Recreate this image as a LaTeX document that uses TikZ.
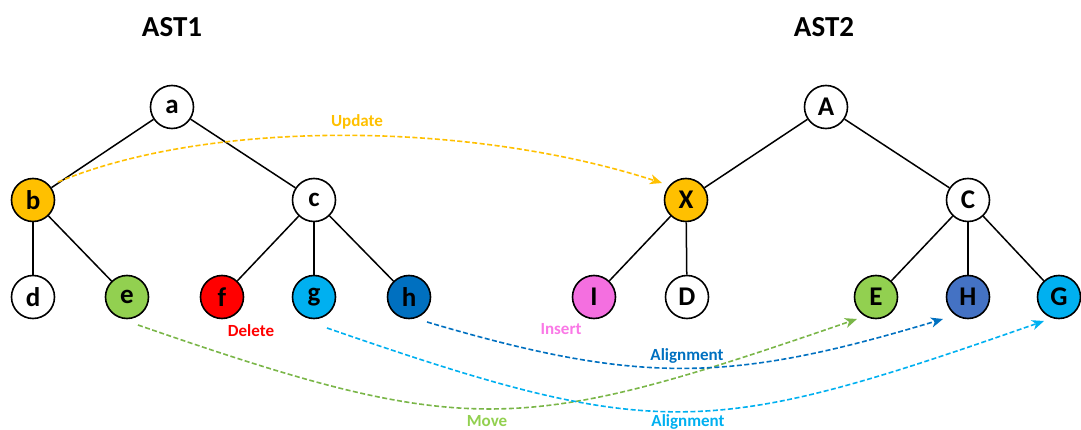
\documentclass[tikz,border=0pt]{standalone}
\usepackage{fontspec}
\setmainfont{Carlito}
\usetikzlibrary{arrows.meta,calc}

\definecolor{cOrange}{HTML}{FFC000}
\definecolor{cGreen}{HTML}{92D050}
\definecolor{cGreenLine}{HTML}{7AB648}
\definecolor{cRed}{HTML}{FF0000}
\definecolor{cSky}{HTML}{00B0F0}
\definecolor{cNavy}{HTML}{0070C0}
\definecolor{cSteel}{HTML}{4472C4}
\definecolor{cPink}{HTML}{F46FE0}
\definecolor{cPinkText}{HTML}{FA78E6}

\tikzset{
  treenode/.style={circle, draw=black, line width=1.6pt, fill=white,
    minimum size=43pt, inner sep=0pt, font=\fontsize{27}{27}\selectfont\bfseries},
  treeedge/.style={line width=1.5pt, black},
  title/.style={font=\fontsize{29}{29}\selectfont\bfseries},
  oplabel/.style={font=\fontsize{17}{17}\selectfont\bfseries},
  opflow/.style={dashed, dash pattern=on 5pt off 2.5pt, line width=1.6pt,
    -{Stealth[length=12pt,width=10pt,inset=3.5pt]}},
}

\begin{document}
\begin{tikzpicture}[x=1pt,y=-1pt]
  \useasboundingbox (0,0) rectangle (1081,430);

  % titles
  \node[title] (t1) at (172,27) {AST1};
  \node[title] (t2) at (824,27) {AST2};

  % first tree
  \node[treenode] (a) at (172,107) {a};
  \node[treenode, fill=cOrange] (b) at (33,200) {b};
  \node[treenode] (c) at (314,200) {c};
  \node[treenode] (d) at (33,297) {d};
  \node[treenode, fill=cGreen] (e) at (127,297) {e};
  \node[treenode, fill=cRed] (f) at (222,297) {f};
  \node[treenode, fill=cSky] (g) at (314,297) {g};
  \node[treenode, fill=cNavy] (h) at (409,297) {h};

  \draw[treeedge] (a) -- (b);
  \draw[treeedge] (a) -- (c);
  \draw[treeedge] (b) -- (d);
  \draw[treeedge] (b) -- (e);
  \draw[treeedge] (c) -- (f);
  \draw[treeedge] (c) -- (g);
  \draw[treeedge] (c) -- (h);

  % second tree
  \node[treenode] (A) at (826,107) {A};
  \node[treenode, fill=cOrange] (X) at (686,200) {X};
  \node[treenode] (C) at (968,200) {C};
  \node[treenode, fill=cPink] (I) at (594,297) {I};
  \node[treenode] (D) at (687,297) {D};
  \node[treenode, fill=cGreen] (E) at (876,297) {E};
  \node[treenode, fill=cSteel] (H) at (968,297) {H};
  \node[treenode, fill=cSky] (G) at (1059,297) {G};

  \draw[treeedge] (A) -- (X);
  \draw[treeedge] (A) -- (C);
  \draw[treeedge] (X) -- (I);
  \draw[treeedge] (X) -- (D);
  \draw[treeedge] (C) -- (E);
  \draw[treeedge] (C) -- (H);
  \draw[treeedge] (C) -- (G);

  % end points of the edit operations
  \coordinate (u0) at ($(b)+(25,-18)$);
  \coordinate (u1) at ($(X)+(-24,-17)$);
  \coordinate (m0) at ($(e)+(11,28)$);
  \coordinate (m1) at ($(E)+(-19,22)$);
  \coordinate (g0) at ($(g)+(13,31)$);
  \coordinate (g1) at ($(G)+(-15,24)$);
  \coordinate (h0) at ($(h)+(18,25)$);
  \coordinate (h1) at ($(H)+(-25,22)$);

  % edit operations
  \draw[opflow, cOrange] (u0) .. controls (210,119) and (470,121) .. (u1);
  \draw[opflow, cGreenLine] (m0) .. controls (470,440) and (520,435) .. (m1);
  \draw[opflow, cSky] (g0) .. controls (659,443) and (709,438) .. (g1);
  \draw[opflow, cNavy] (h0) .. controls (640,385) and (730,383) .. (h1);

  % operation labels
  \node[oplabel, text=cOrange] (lu) at (357,122) {Update};
  \node[oplabel, text=cRed] (ld) at (251,331) {Delete};
  \node[oplabel, text=cPinkText] (li) at (561,329) {Insert};
  \node[oplabel, text=cNavy] (la1) at (687,356) {Alignment};
  \node[oplabel, text=cGreen] (lm) at (487,421) {Move};
  \node[oplabel, text=cSky] (la2) at (688,422) {Alignment};
\end{tikzpicture}
\end{document}
